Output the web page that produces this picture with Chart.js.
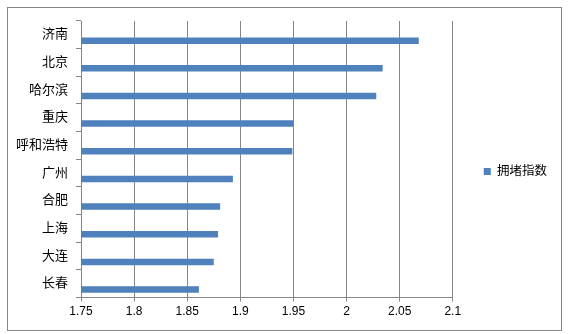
<!DOCTYPE html>
<html>
<head>
<meta charset="utf-8">
<script src="https://cdn.jsdelivr.net/npm/chart.js@4/dist/chart.umd.min.js"></script>
<style>
  html, body { margin: 0; padding: 0; background: #fff; }
  #wrap { width: 568px; height: 334px; position: relative; }
</style>
</head>
<body>
<div id="wrap"><canvas id="myChart" width="568" height="334"></canvas></div>
<script>
// city names, top to bottom
var cities = ['济南', '北京', '哈尔滨', '重庆', '呼和浩特', '广州', '合肥', '上海', '大连', '长春'];
// congestion index values
var congestion = [2.068, 2.034, 2.028, 1.950, 1.949, 1.893, 1.881, 1.879, 1.875, 1.861];
var seriesName = '拥堵指数';
var xMin = 1.75;
var xMax = 2.1;
var xStep = 0.05;

var gridColor = '#868686';

// outer frame round the whole chart
const framePlugin = {
	id: 'frame',
	beforeDraw: function(chart) {
		var c = chart.ctx;
		c.save();
		c.fillStyle = '#fff';
		c.fillRect(0, 0, chart.width, chart.height);
		c.restore();
	},
	afterDraw: function(chart) {
		var c = chart.ctx;
		c.save();
		c.strokeStyle = gridColor;
		c.lineWidth = 1;
		c.strokeRect(7.5, 7.5, 554, 323);
		c.restore();
	}
};

Chart.defaults.font.family = '"Liberation Sans", "Noto Sans CJK SC", sans-serif';
Chart.defaults.color = '#000';

const ctx = document.getElementById('myChart').getContext('2d');
const myChart = new Chart(ctx, {
	type: 'bar',
	data: {
		labels: cities,
		datasets: [{
			// empty series so the real bars sit low in each band, as in the original
			label: '',
			data: cities.map(function() { return null; }),
			backgroundColor: 'rgba(0,0,0,0)'
		}, {
			label: seriesName,
			data: congestion,
			backgroundColor: '#4F81BD',
			borderWidth: 0
		}]
	},
	options: {
		indexAxis: 'y',
		responsive: false,
		animation: false,
		datasets: {
			bar: { categoryPercentage: 0.84, barPercentage: 0.56 }
		},
		layout: {
			padding: { left: 8, right: 11, top: 21, bottom: 12 }
		},
		plugins: {
			legend: {
				position: 'right',
				labels: {
					boxWidth: 7,
					boxHeight: 7,
					padding: 31,
					font: { size: 12.5 },
					filter: function(item) { return item.text !== ''; }
				}
			},
			tooltip: { enabled: false }
		},
		scales: {
			x: {
				min: xMin,
				max: xMax,
				ticks: {
					stepSize: xStep,
					padding: 3,
					font: { size: 12 },
					callback: function(v) { return String(Number(v.toFixed(2))); }
				},
				grid: { color: gridColor, tickLength: 4 },
				border: { color: gridColor }
			},
			y: {
				ticks: { padding: 8, font: { size: 13 } },
				grid: { color: gridColor, drawOnChartArea: false, tickLength: 5 },
				border: { color: gridColor }
			}
		}
	},
	plugins: [framePlugin]
});
</script>
</body>
</html>
